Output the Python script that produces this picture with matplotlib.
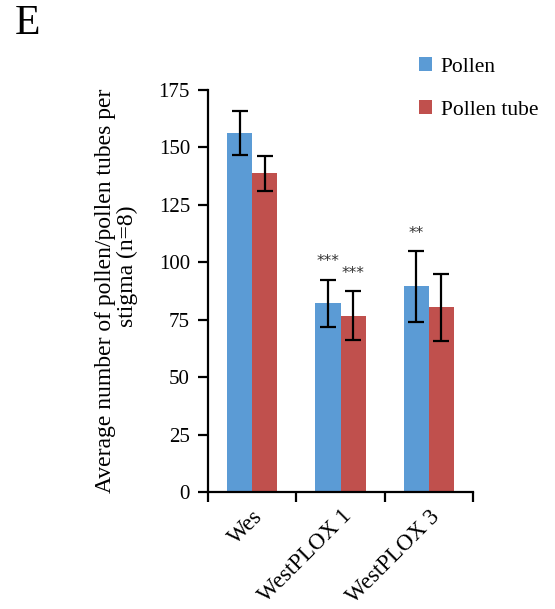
import numpy as np
import matplotlib.pyplot as plt

lines = ['Wes', 'WestPLOX 1', 'WestPLOX 3']
pollen = [156.3, 82.1, 89.5]
pollen_err = [9.6, 10.4, 15.3]
tube = [138.7, 76.8, 80.5]
tube_err = [7.7, 10.6, 14.6]
pollen_sig = ['', '***', '**']
tube_sig = ['', '***', '']

plt.rcParams['font.family'] = ['Liberation Serif', 'DejaVu Serif']

fig = plt.figure(figsize=(5.55, 6.09), dpi=100)
ax = fig.add_axes([208 / 555, 1 - 492 / 609, 265 / 555, 402 / 609])

x = np.arange(len(lines))
w = 0.285
ax.bar(x - w / 2, pollen, w, color='#5B9BD5', label='Pollen')
ax.bar(x + w / 2, tube, w, color='#C0504D', label='Pollen tube')
ax.errorbar(x - w / 2, pollen, yerr=pollen_err, fmt='none', ecolor='black',
            elinewidth=1.6, capsize=6, capthick=1.6)
ax.errorbar(x + w / 2, tube, yerr=tube_err, fmt='none', ecolor='black',
            elinewidth=1.6, capsize=6, capthick=1.6)

# significance stars above the error bars
for i in range(len(lines)):
    if pollen_sig[i]:
        ax.text(x[i] - w / 2, pollen[i] + pollen_err[i] + 4.5, pollen_sig[i],
                ha='center', va='bottom', fontsize=11, family='DejaVu Sans', color='#333333')
    if tube_sig[i]:
        ax.text(x[i] + w / 2, tube[i] + tube_err[i] + 4.5, tube_sig[i],
                ha='center', va='bottom', fontsize=11, family='DejaVu Sans', color='#333333')

ax.set_xlim(-0.5, 2.5)
ax.set_ylim(0, 175)
ax.set_yticks(np.arange(0, 176, 25))
ax.set_xticks([-0.5, 0.5, 1.5, 2.5])
ax.set_xticklabels([])
ax.set_xticks(x, minor=True)
ax.set_xticklabels(lines, minor=True, rotation=45, ha='right', va='top',
                   rotation_mode='anchor', fontsize=16.5)
ax.tick_params(axis='x', which='minor', length=0, pad=10)
ax.tick_params(axis='both', which='major', direction='out', length=7, width=1.6,
               labelsize=15, pad=6)
for s in ['top', 'right']:
    ax.spines[s].set_visible(False)
for s in ['left', 'bottom']:
    ax.spines[s].set_linewidth(1.6)

# y label: first line centred on the axis, second line set a bit higher
ax.text(-0.385, 0.5, 'Average number of pollen/pollen tubes per', transform=ax.transAxes,
        rotation=90, ha='center', va='center', fontsize=17)
ax.text(-0.305, 0.562, 'stigma (n=8)', transform=ax.transAxes,
        rotation=90, ha='center', va='center', fontsize=17)

fig.legend(loc='upper left', bbox_to_anchor=(400 / 555, 1 - 38 / 609), frameon=False,
           fontsize=15.5, handlelength=0.6, handleheight=0.6, handletextpad=0.4,
           labelspacing=1.1)

fig.text(15 / 555, 1 - 24 / 609, 'E', fontsize=30, va='center')

fig.savefig('out.png', dpi=100)
